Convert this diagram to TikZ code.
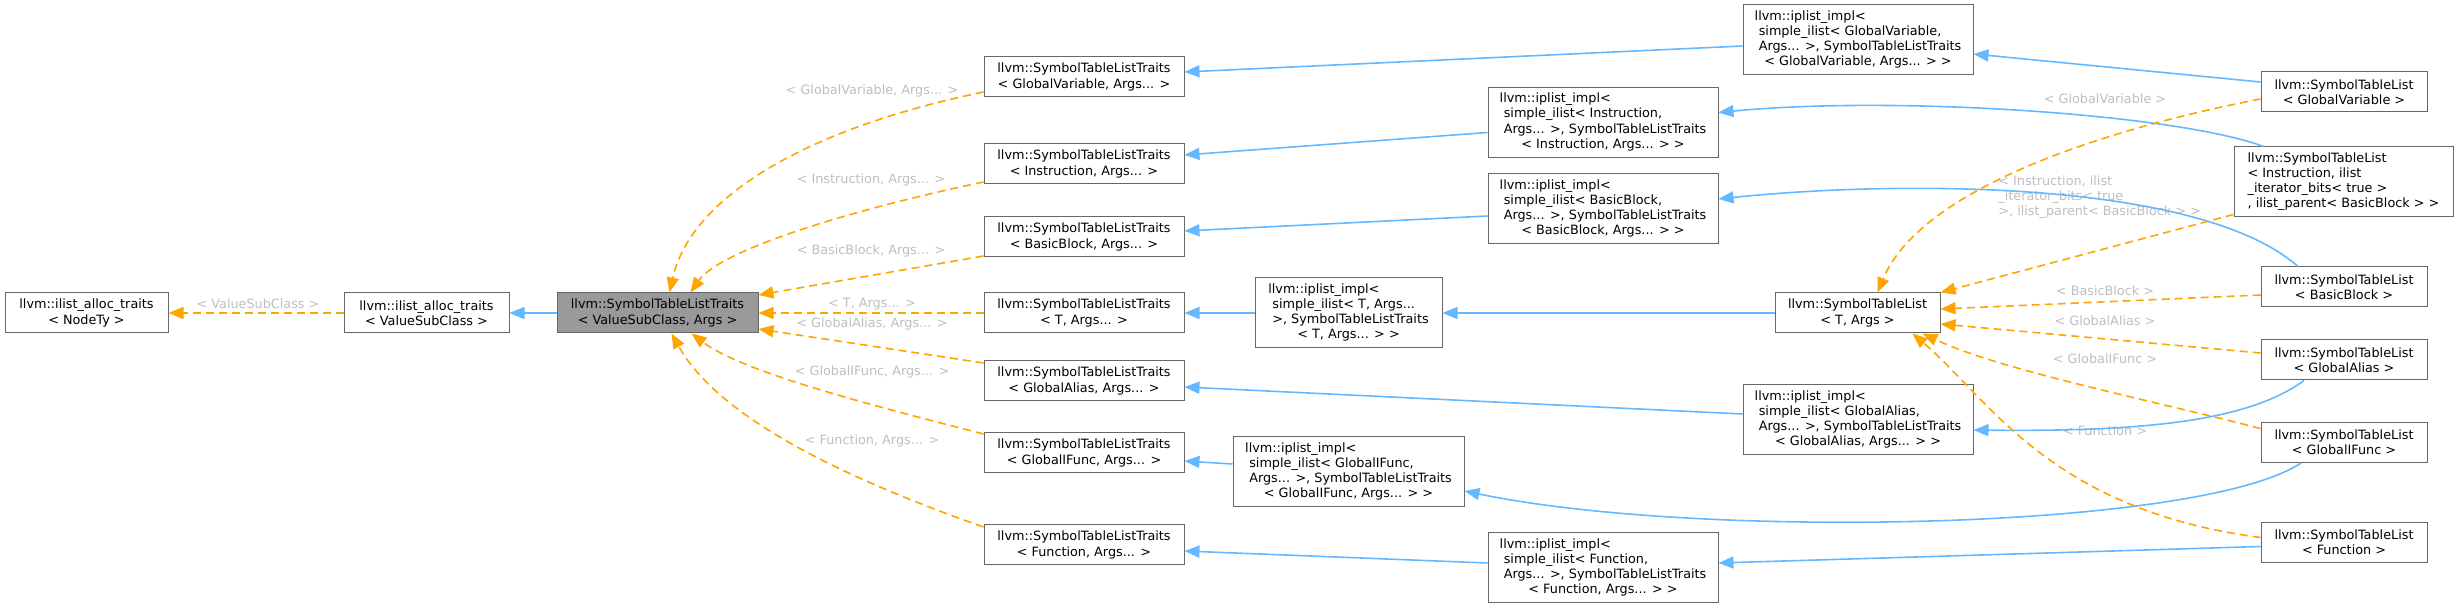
\documentclass[tikz,border=0pt]{standalone}
\usepackage{fontspec}
\setmainfont{DejaVu Sans}
\usetikzlibrary{arrows.meta,calc}

\newcommand{\ipl}[4]{\begin{tabular}{@{}l@{}}#1\\\ #2\\\ #3\\\multicolumn{1}{@{}c@{}}{#4}\end{tabular}}

\begin{document}
\begin{tikzpicture}[x=0.5pt,y=-0.5pt,
  cls/.style={draw=boxline,fill=white,line width=0.5pt,inner sep=0pt,minimum height=20pt,align=center,font=\fontsize{6.4}{7.6}\selectfont},
  lbl/.style={text=lblgray,inner sep=0pt,align=left,font=\fontsize{6.4}{7.6}\selectfont},
  inh/.style={draw=inhblue,line width=0.8pt,-{Triangle[length=7.5pt,width=6pt]}},
  tpl/.style={draw=tplorange,line width=0.8pt,dash pattern=on 4pt off 2.5pt,-{Triangle[length=7.5pt,width=6pt]}}]
  \definecolor{boxline}{HTML}{666666}
  \definecolor{basegray}{HTML}{999999}
  \definecolor{lblgray}{HTML}{BEBEBE}
  \definecolor{inhblue}{HTML}{63B8FF}
  \definecolor{tplorange}{HTML}{FFA500}
  \useasboundingbox (0,0) rectangle (2459,608);
  \node[cls,minimum width=81.5pt] (nodety) at (86.5,313) {llvm::ilist\_alloc\_traits\\< NodeTy >};
  \node[cls,minimum width=82.5pt] (valsub) at (426.5,313) {llvm::ilist\_alloc\_traits\\< ValueSubClass >};
  \node[cls,fill=basegray,minimum width=100.5pt] (stlt) at (657.5,313) {llvm::SymbolTableListTraits\\< ValueSubClass, Args >};
  \foreach \n/\y/\t in {tgv/77/GlobalVariable,tins/164/Instruction,tbb/237/BasicBlock,tt/313/T,tga/381/GlobalAlias,tgif/453/GlobalIFunc,tfn/545/Function}{%
    \node[cls,minimum width=100pt] (\n) at (1084,\y) {llvm::SymbolTableListTraits\\< \t, Args... >};
  }
  \node[cls,minimum width=115pt,minimum height=35pt] (igv) at (1858,40) {\ipl{llvm::iplist\_impl<}{simple\_ilist< GlobalVariable,}{Args... >, SymbolTableListTraits}{< GlobalVariable, Args... > >}};
  \node[cls,minimum width=115pt,minimum height=35pt] (iins) at (1603,122.5) {\ipl{llvm::iplist\_impl<}{simple\_ilist< Instruction,}{Args... >, SymbolTableListTraits}{< Instruction, Args... > >}};
  \node[cls,minimum width=115pt,minimum height=35pt] (ibb) at (1603,209) {\ipl{llvm::iplist\_impl<}{simple\_ilist< BasicBlock,}{Args... >, SymbolTableListTraits}{< BasicBlock, Args... > >}};
  \node[cls,minimum width=93.5pt,minimum height=35pt] (it) at (1348.5,313) {\ipl{llvm::iplist\_impl<}{simple\_ilist< T, Args...}{>, SymbolTableListTraits}{< T, Args... > >}};
  \node[cls,minimum width=115pt,minimum height=35pt] (iga) at (1858,420) {\ipl{llvm::iplist\_impl<}{simple\_ilist< GlobalAlias,}{Args... >, SymbolTableListTraits}{< GlobalAlias, Args... > >}};
  \node[cls,minimum width=115.5pt,minimum height=35pt] (igif) at (1348.5,472) {\ipl{llvm::iplist\_impl<}{simple\_ilist< GlobalIFunc,}{Args... >, SymbolTableListTraits}{< GlobalIFunc, Args... > >}};
  \node[cls,minimum width=115pt,minimum height=35pt] (ifn) at (1603,568) {\ipl{llvm::iplist\_impl<}{simple\_ilist< Function,}{Args... >, SymbolTableListTraits}{< Function, Args... > >}};
  \foreach \n/\y/\t in {lgv/92/GlobalVariable,lbb/287/BasicBlock,lga/360/GlobalAlias,lgif/442.5/GlobalIFunc,lfn/542.5/Function}{%
    \node[cls,minimum width=83pt] (\n) at (2344,\y) {llvm::SymbolTableList\\< \t{} >};
  }
  \node[cls,minimum width=109.5pt,minimum height=35pt] (lins) at (2343.5,182) {\begin{tabular}{@{}l@{}}llvm::SymbolTableList\\< Instruction, ilist\\\_iterator\_bits< true >\\, ilist\_parent< BasicBlock > >\end{tabular}};
  \node[cls,minimum width=82.5pt] (lt) at (1857.5,313) {llvm::SymbolTableList\\< T, Args >};
  % edge labels
  \node[lbl] (lbvsc) at (258,304) {< ValueSubClass >};
  \node[lbl] (lbtgv) at (872,91) {< GlobalVariable, Args... >};
  \node[lbl] (lbtins) at (871,180) {< Instruction, Args... >};
  \node[lbl] (lbtbb) at (871,251) {< BasicBlock, Args... >};
  \node[lbl] (lbtt) at (872,304) {< T, Args... >};
  \node[lbl] (lbtga) at (872,324) {< GlobalAlias, Args... >};
  \node[lbl] (lbtgif) at (872,372) {< GlobalIFunc, Args... >};
  \node[lbl] (lbtfn) at (872,441) {< Function, Args... >};
  \node[lbl] (lblgv) at (2105,99) {< GlobalVariable >};
  \node[lbl,anchor=west] (lblins) at (1998,197) {< Instruction, ilist\\\_iterator\_bits< true\\>, ilist\_parent< BasicBlock > >};
  \node[lbl] (lblbb) at (2105,291) {< BasicBlock >};
  \node[lbl] (lblga) at (2105,321) {< GlobalAlias >};
  \node[lbl] (lblgif) at (2105,359) {< GlobalIFunc >};
  \node[lbl] (lblfn) at (2105,431) {< Function >};
  % inheritance
  \draw[inh] (stlt.west) -- (valsub.east);
  \draw[inh] ($(igv.west)+(0,6)$) -- ($(tgv.east)+(0,-5)$);
  \draw[inh] ($(iins.west)+(0,10)$) -- ($(tins.east)+(0,-9)$);
  \draw[inh] ($(ibb.west)+(0,7)$) -- ($(tbb.east)+(0,-6)$);
  \draw[inh] (it.west) -- (tt.east);
  \draw[inh] ($(iga.west)+(0,-6)$) -- ($(tga.east)+(0,6)$);
  \draw[inh] ($(igif.west)+(0,-8)$) -- ($(tgif.east)+(0,8)$);
  \draw[inh] ($(ifn.west)+(0,-5)$) -- ($(tfn.east)+(0,6)$);
  \draw[inh] ($(lgv.west)+(0,-10)$) -- ($(igv.east)+(0,14)$);
  \draw[inh] ($(lins.north west)+(30,0)$) .. controls (2180,115) and (1900,95) .. ($(iins.east)+(0,-10)$);
  \draw[inh] ($(lbb.north)+(-46,0)$) .. controls (2200,180) and (1900,180) .. ($(ibb.east)+(0,-10)$);
  \draw[inh] (lt.west) -- (it.east);
  \draw[inh] ($(lga.south)+(-40,0)$) .. controls (2250,420) and (2150,432) .. ($(iga.east)+(0,10)$);
  \draw[inh] ($(lgif.south)+(-43,0)$) .. controls (2200,530) and (1700,540) .. ($(igif.east)+(0,19)$);
  \draw[inh] ($(lfn.west)+(0,4)$) -- ($(ifn.east)+(0,-5)$);
  % templates
  \draw[tpl] (valsub.west) -- (nodety.east);
  \draw[tpl] ($(tgv.west)+(0,15)$) .. controls (800,130) and (690,200) .. ($(stlt.north)+(12,0)$);
  \draw[tpl] ($(tins.west)+(0,18)$) .. controls (850,210) and (720,250) .. ($(stlt.north)+(33,0)$);
  \draw[tpl] ($(tbb.west)+(0,19)$) -- ($(stlt.east)+(0,-18)$);
  \draw[tpl] (tt.west) -- (stlt.east);
  \draw[tpl] ($(tga.west)+(0,-18)$) -- ($(stlt.east)+(0,16)$);
  \draw[tpl] ($(tgif.west)+(0,-19)$) .. controls (850,400) and (740,370) .. ($(stlt.south)+(34,0)$);
  \draw[tpl] ($(tfn.west)+(0,-18)$) .. controls (850,480) and (720,420) .. ($(stlt.south)+(14,0)$);
  \draw[tpl] ($(lgv.west)+(0,7)$) .. controls (2100,130) and (1920,190) .. ($(lt.north)+(20,0)$);
  \draw[tpl] ($(lins.south west)+(0,-3)$) -- (lt.north east);
  \draw[tpl] ($(lbb.west)+(0,8)$) -- ($(lt.east)+(0,-4)$);
  \draw[tpl] ($(lga.west)+(0,-7)$) -- ($(lt.east)+(0,11)$);
  \draw[tpl] ($(lgif.west)+(0,-14)$) .. controls (2150,400) and (2000,370) .. ($(lt.south east)+(-18,0)$);
  \draw[tpl] ($(lfn.west)+(0,-5)$) .. controls (2050,510) and (1990,400) .. ($(lt.south)+(55,0)$);
\end{tikzpicture}
\end{document}
